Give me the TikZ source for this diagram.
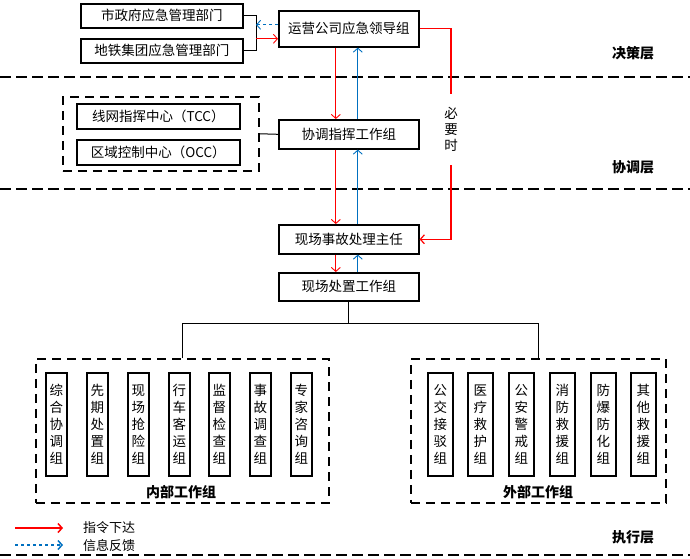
\documentclass[tikz,border=0pt]{standalone}
\usepackage{fontspec}
\setmainfont{Noto Sans CJK SC}
\usetikzlibrary{arrows.meta}
\definecolor{fbred}{RGB}{255,0,0}
\definecolor{fbblue}{RGB}{0,112,192}
\tikzset{
  box/.style={draw, line width=1.6pt, inner sep=0pt, anchor=north west, font=\fontsize{13.5}{16}\selectfont},
  vbox/.style={draw, line width=1.6pt, inner sep=0pt, anchor=north west, minimum height=103pt, align=center, font=\fontsize{13.5}{17}\selectfont},
  grp/.style={draw, dash pattern=on 9pt off 6pt, line width=1.5pt, inner sep=0pt, anchor=north west},
  layerline/.style={dash pattern=on 11pt off 5pt, line width=1.8pt},
  redl/.style={draw=fbred, line width=0.9pt},
  bluel/.style={draw=fbblue, line width=0.9pt},
  tip/.style={-{Straight Barb[length=4pt,width=9pt]}},
  lbl/.style={font=\fontsize{14}{16}\selectfont\bfseries},
  conn/.style={line width=1pt}
}
\begin{document}
\begin{tikzpicture}[x=1pt,y=-1pt]
\useasboundingbox (0,0) rectangle (690,558);
% layer lines
\draw[layerline] (0,77) -- (690,77);
\draw[layerline] (0,189) -- (690,189);
\draw[layerline] (0,555) -- (690,555);
% layer labels
\node[lbl] (l1) at (633,53) {决策层};
\node[lbl] (l2) at (633,167) {协调层};
\node[lbl] (l3) at (633,537) {执行层};
% top
\node[box, minimum width=162pt, minimum height=24pt] (gov) at (80,3) {市政府应急管理部门};
\node[box, minimum width=162pt, minimum height=24pt] (metro) at (80,38) {地铁集团应急管理部门};
\node[box, minimum width=140pt, minimum height=36pt] (lead) at (278,10) {运营公司应急领导组};
\coordinate (jx) at (256,0);
\draw[conn] (gov.east) -- (gov.east -| jx) -- (metro.east -| jx) -- (metro.east);
\draw[bluel, dashed, tip] ([yshift=4pt]lead.west) -- ([yshift=4pt]lead.west -| jx);
\draw[redl, tip] ([yshift=-10pt]lead.west -| jx) -- ([yshift=-10pt]lead.west);
% coordination
\node[grp, minimum width=196pt, minimum height=74pt] (tccgrp) at (62,96) {};
\node[box, minimum width=163pt, minimum height=25pt] (tcc) at (76,103) {线网指挥中心（TCC）};
\node[box, minimum width=163pt, minimum height=25pt] (occ) at (76,139) {区域控制中心（OCC）};
\node[box, minimum width=140pt, minimum height=29pt] (coord) at (278,119) {协调指挥工作组};
\draw[conn] (tccgrp.east) -- (coord.west);
% execution
\node[box, minimum width=140pt, minimum height=29pt] (chief) at (278,224) {现场事故处理主任};
\node[box, minimum width=140pt, minimum height=28pt] (site) at (278,272) {现场处置工作组};
% vertical red/blue
\draw[redl, tip] ([xshift=-13pt]lead.south) -- ([xshift=-13pt]coord.north);
\draw[bluel, tip] ([xshift=9pt]coord.north) -- ([xshift=9pt]lead.south);
\draw[redl, tip] ([xshift=-13pt]coord.south) -- ([xshift=-13pt]chief.north);
\draw[bluel, tip] ([xshift=9pt]chief.north) -- ([xshift=9pt]coord.south);
\draw[redl, tip] ([xshift=-13pt]chief.south) -- ([xshift=-13pt]site.north);
\draw[bluel, tip] ([xshift=9pt]site.north) -- ([xshift=9pt]chief.south);
% necessary
\node[inner sep=0pt, minimum height=71pt, align=center, font=\fontsize{13.5}{16}\selectfont] (nec) at (451,129.5) {必\\要\\时};
\draw[redl, line width=1.2pt] (lead.east) -| (nec.north);
\draw[redl, line width=1.2pt, tip] (nec.south) |- (chief.east);
% groups
\node[grp, minimum width=293pt, minimum height=144pt] (int) at (35,358) {};
\node[grp, minimum width=255pt, minimum height=144pt] (ext) at (410,358) {};
\coordinate (bus) at (0,323);
\draw[conn] (site.south) -- (site.south |- bus);
\draw[conn] (int.north) -- (int.north |- bus) -- (ext.north |- bus) -- (ext.north);
% internal boxes
\node[vbox, minimum width=21pt] (i1) at (45,372) {综\\合\\协\\调\\组};
\node[vbox, minimum width=21pt] (i2) at (86,372) {先\\期\\处\\置\\组};
\node[vbox, minimum width=21pt] (i3) at (127,372) {现\\场\\抢\\险\\组};
\node[vbox, minimum width=21pt] (i4) at (168,372) {行\\车\\客\\运\\组};
\node[vbox, minimum width=21pt] (i5) at (208,372) {监\\督\\检\\查\\组};
\node[vbox, minimum width=21pt] (i6) at (249,372) {事\\故\\调\\查\\组};
\node[vbox, minimum width=21pt] (i7) at (290,372) {专\\家\\咨\\询\\组};
\node[lbl] (intl) at (181,492) {内部工作组};
% external boxes
\node[vbox, minimum width=25pt] (e1) at (427,372) {公\\交\\接\\驳\\组};
\node[vbox, minimum width=25pt] (e2) at (467,372) {医\\疗\\救\\护\\组};
\node[vbox, minimum width=25pt] (e3) at (508,372) {公\\安\\警\\戒\\组};
\node[vbox, minimum width=25pt] (e4) at (549,372) {消\\防\\救\\援\\组};
\node[vbox, minimum width=25pt] (e5) at (590,372) {防\\爆\\防\\化\\组};
\node[vbox, minimum width=25pt] (e6) at (630,372) {其\\他\\救\\援\\组};
\node[lbl] (extl) at (538,492) {外部工作组};
% legend
\coordinate (lr1) at (15,528);
\coordinate (lb1) at (15,545);
\node[anchor=west, inner sep=0pt, font=\fontsize{13}{15}\selectfont] (lr) at (83,528) {指令下达};
\node[anchor=west, inner sep=0pt, font=\fontsize{13}{15}\selectfont] (lb) at (83,546) {信息反馈};
\draw[redl, line width=1.5pt, tip] (lr1) -- ++(48,0);
\draw[bluel, line width=1.5pt, dashed, tip] (lb1) -- ++(48,0);
\end{tikzpicture}
\end{document}
